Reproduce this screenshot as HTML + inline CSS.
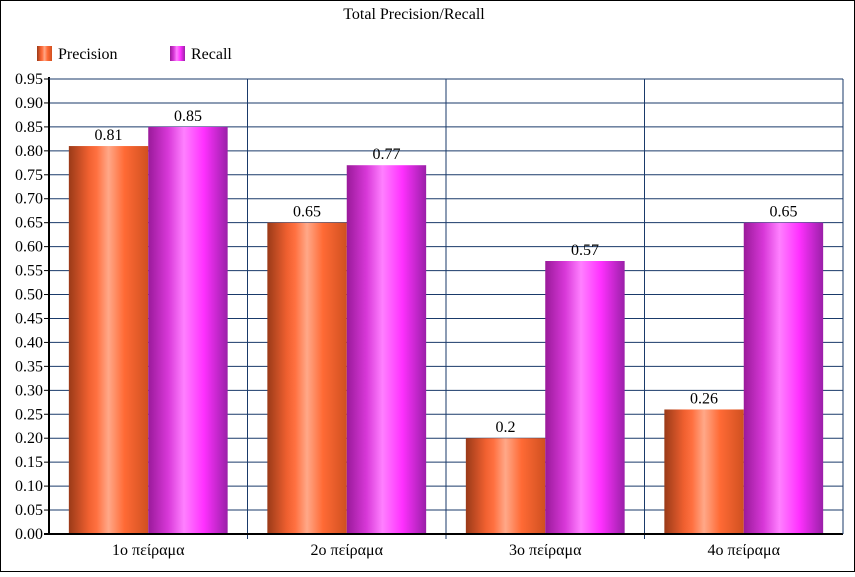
<!DOCTYPE html>
<html><head><meta charset="utf-8"><style>
body{margin:0;background:#fff}
svg text{font-family:"Liberation Serif",serif;fill:#000}
</style></head><body>
<svg width="855" height="572" xmlns="http://www.w3.org/2000/svg">
<defs>
<linearGradient id="gp" x1="0" x2="1" y1="0" y2="0">
<stop offset="0" stop-color="#9a3a18"/><stop offset="0.25" stop-color="#f06030"/><stop offset="0.35" stop-color="#ff7040"/><stop offset="0.5" stop-color="#ffa888"/><stop offset="0.7" stop-color="#ff6a35"/><stop offset="1" stop-color="#d05020"/>
</linearGradient>
<linearGradient id="gr" x1="0" x2="1" y1="0" y2="0">
<stop offset="0" stop-color="#9a1a9a"/><stop offset="0.25" stop-color="#d838d8"/><stop offset="0.45" stop-color="#ff80ff"/><stop offset="0.7" stop-color="#ff30ff"/><stop offset="1" stop-color="#9a20a8"/>
</linearGradient>
</defs>
<rect x="0.5" y="0.5" width="854" height="571" fill="#fff" stroke="#000"/>
<text x="414" y="19" font-size="16" text-anchor="middle">Total Precision/Recall</text>
<g>
<rect x="37" y="46" width="15" height="15" fill="url(#gp)"/>
<text x="58" y="59" font-size="16">Precision</text>
<rect x="170" y="46" width="15" height="15" fill="url(#gr)"/>
<text x="191" y="59" font-size="16">Recall</text>
</g>
<g id="plot"></g>
</svg>
<script>
const categories=["1ο πείραμα","2ο πείραμα","3ο πείραμα","4ο πείραμα"];
const precision=[0.81,0.65,0.2,0.26];
const recall=[0.85,0.77,0.57,0.65];
const yTicks=[0,0.05,0.1,0.15,0.2,0.25,0.3,0.35,0.4,0.45,0.5,0.55,0.6,0.65,0.7,0.75,0.8,0.85,0.9,0.95];
const NS="http://www.w3.org/2000/svg";
const L=49,R=843,T=79,B=534,YMAX=0.95;
const y=v=>B-(v/YMAX)*(B-T);
const cw=(R-L)/categories.length;
const x=i=>L+i*cw;
const g=document.getElementById('plot');
function mk(tag,attrs){const e=document.createElementNS(NS,tag);for(const k in attrs)e.setAttribute(k,attrs[k]);g.appendChild(e);return e;}
yTicks.forEach(t=>{
 const l=mk('line',{x1:L,x2:R,y1:y(t),y2:y(t),stroke:'#1a3a6a','stroke-width':1});
 
 
 const tk=mk('line',{x1:L-5,x2:L,y1:y(t),y2:y(t),stroke:'#000'});
 
 
 const tx=mk('text',{x:L-6,y:y(t)+5,'font-size':16,'text-anchor':'end'});
 tx.textContent=t.toFixed(2);
 
 
});
for(let i=1;i<categories.length;i++){
 const v=mk('line',{x1:x(i),x2:x(i),y1:T,y2:B+5,stroke:'#1a3a6a'});
 
 
}
const bw=cw*0.4,pad=cw*0.1;
categories.forEach((c,i)=>{
 [[precision,'url(#gp)','precision',0],[recall,'url(#gr)','recall',1]].forEach(([arr,f,n,k])=>{
  const bx=x(i)+pad+k*bw,v=arr[i];
  const r=mk('rect',{x:bx,y:y(v),width:bw,height:B-y(v),fill:f});
  
  
  const t=mk('text',{x:bx+bw/2,y:y(v)-6,'font-size':16,'text-anchor':'middle'});
  t.textContent=String(v);
  
  
 });
 const ct=mk('text',{x:x(i)+cw/2,y:B+21,'font-size':16,'text-anchor':'middle'});
 ct.textContent=c;
 
 
});
const ya=mk('line',{x1:L,x2:L,y1:T-2,y2:B,stroke:'#000','stroke-width':2});


const xa=mk('line',{x1:L-5,x2:R,y1:B,y2:B,stroke:'#000','stroke-width':2});


const rb=mk('line',{x1:R,x2:R,y1:T,y2:B,stroke:'#1a3a6a'});


const tb=mk('line',{x1:L,x2:R,y1:T,y2:T,stroke:'#1a3a6a'});


</script>
</body></html>
